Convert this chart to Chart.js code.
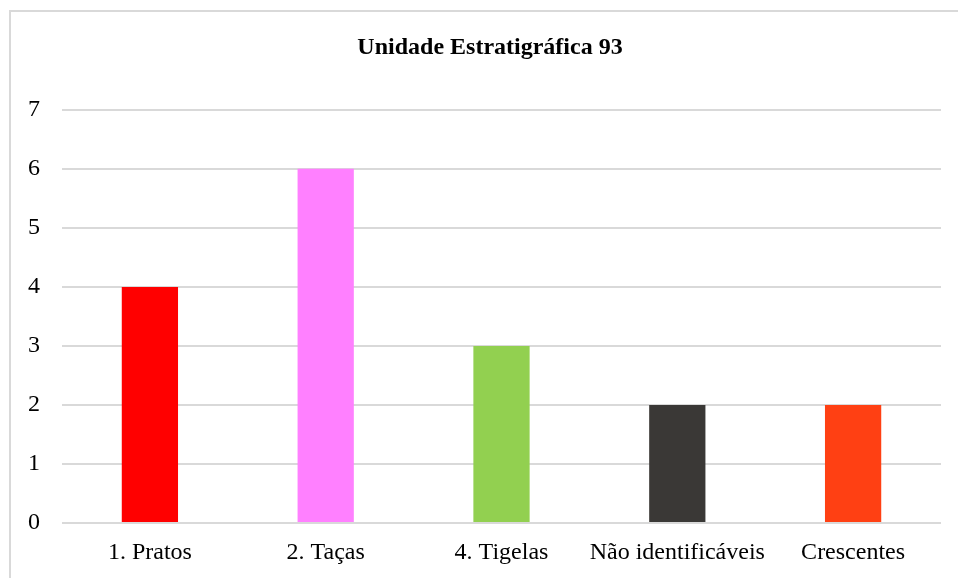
<!DOCTYPE html>
<html>
<head>
    <meta charset="utf-8">
    <title>Unidade Estratigráfica 93</title>
    <script src="https://cdn.jsdelivr.net/npm/chart.js"></script>
    <style>
        body { margin: 0; background: #fff; overflow: hidden; }
        #frame { position: absolute; left: 9px; top: 10px; width: 1000px; height: 1000px; border: 2px solid #d9d9d9; }
        #chart { position: absolute; left: 0; top: 0; }
    </style>
</head>
<body>
    <div id="frame"></div>
    <canvas id="chart" width="980" height="578"></canvas>

    <script>
        var categories = ['1. Pratos', '2. Taças', '4. Tigelas', 'Não identificáveis', 'Crescentes'];
        var values = [4, 6, 3, 2, 2];
        var barColors = ['#ff0000', '#ff80ff', '#92d050', '#3a3836', '#ff4013'];

        var ctx = document.getElementById('chart').getContext('2d');
        var chart = new Chart(ctx, {
            type: 'bar',
            data: {
                labels: categories,
                datasets: [{
                    data: values,
                    backgroundColor: barColors,
                    borderWidth: 0,
                    categoryPercentage: 1,
                    barPercentage: 0.32
                }]
            },
            options: {
                responsive: false,
                animation: false,
                layout: { padding: 0 },
                plugins: {
                    legend: { display: false },
                    tooltip: { enabled: false },
                    title: {
                        display: true,
                        text: 'Unidade Estratigráfica 93',
                        color: '#000',
                        font: { family: 'Liberation Serif', size: 24, weight: 'bold', lineHeight: 1.2 },
                        padding: { top: 33, bottom: 48 }
                    }
                },
                scales: {
                    x: {
                        grid: { display: false, drawTicks: false },
                        border: { display: false },
                        ticks: {
                            color: '#000',
                            padding: 15,
                            maxRotation: 0,
                            autoSkip: false,
                            font: { family: 'Liberation Serif', size: 24 }
                        },
                        afterFit: function (scale) { scale.height = 55; }
                    },
                    y: {
                        min: 0,
                        max: 7,
                        grid: { color: '#d9d9d9', lineWidth: 2, drawTicks: false },
                        border: { display: false },
                        ticks: {
                            stepSize: 1,
                            color: '#000',
                            padding: 22,
                            font: { family: 'Liberation Serif', size: 24 }
                        },
                        afterFit: function (scale) { scale.width = 62; }
                    },
                    // empty right axis: keeps the plot's right edge in place while the title centres on the whole canvas
                    yRight: {
                        position: 'right',
                        display: true,
                        grid: { display: false, drawTicks: false },
                        border: { display: false },
                        ticks: { display: false },
                        afterFit: function (scale) { scale.width = 39; }
                    }
                }
            }
        });
    </script>
</body>
</html>
